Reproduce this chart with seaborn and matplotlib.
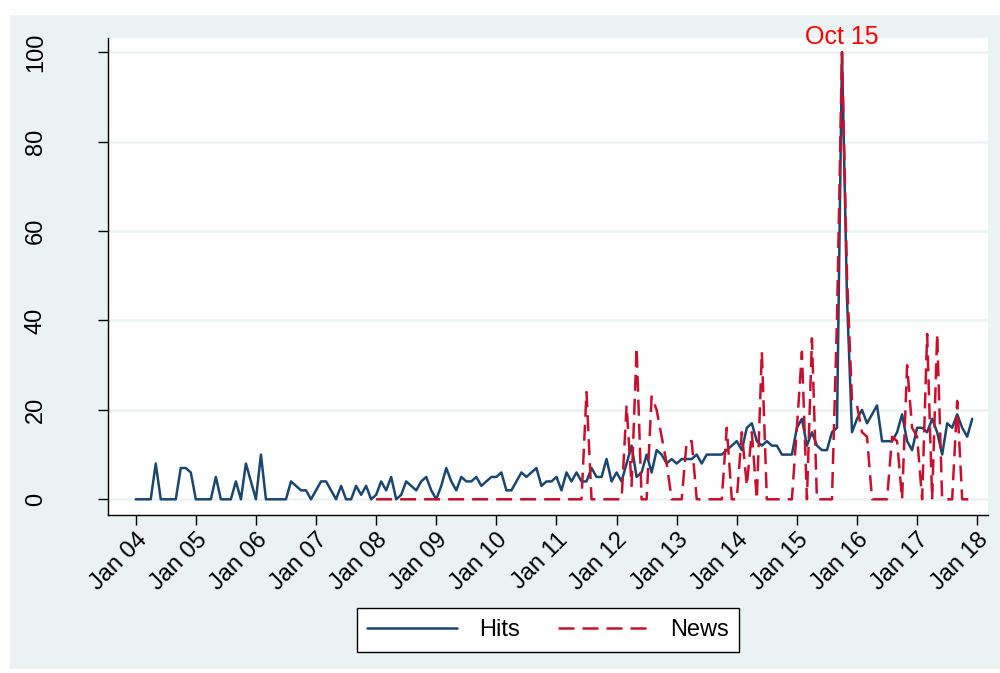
import numpy as np
import pandas as pd
import matplotlib
matplotlib.use("Agg")
import matplotlib.pyplot as plt
import seaborn as sns
from matplotlib.patches import Rectangle
from matplotlib.lines import Line2D

sns.set_theme(style="white")
plt.rcParams['font.family'] = ['Liberation Sans', 'DejaVu Sans']
plt.rcParams['text.color'] = 'black'
plt.rcParams['xtick.color'] = 'black'
plt.rcParams['ytick.color'] = 'black'

# ---- data (monthly, Jan 2004 - Dec 2017) ----
hits_2004 = [0, 0, 0, 0, 8, 0, 0, 0, 0, 7, 7, 6]
hits_2005 = [0, 0, 0, 0, 5, 0, 0, 0, 4, 0, 8, 4]
hits_2006 = [0, 10, 0, 0, 0, 0, 0, 4, 3, 2, 2, 0]
hits_2007 = [2, 4, 4, 2, 0, 3, 0, 0, 3, 1, 3, 0]
hits_2008 = [1, 4, 2, 5, 0, 1, 4, 3, 2, 4, 5, 2]
hits_2009 = [0, 3, 7, 4, 2, 5, 4, 4, 5, 3, 4, 5]
hits_2010 = [5, 6, 2, 2, 4, 6, 5, 6, 7, 3, 4, 4]
hits_2011 = [5, 2, 6, 4, 6, 4, 4, 7, 5, 5, 9, 4]
hits_2012 = [6, 4, 8, 12, 5, 6, 10, 6, 11, 10, 8, 9]
hits_2013 = [8, 9, 9, 9, 10, 8, 10, 10, 10, 10, 11, 12]
hits_2014 = [13, 11, 16, 17, 13, 12, 13, 12, 12, 10, 10, 10]
hits_2015 = [16, 18, 12, 15, 12, 11, 11, 15, 16, 100, 45, 15]
hits_2016 = [18, 20, 17, 19, 21, 13, 13, 13, 15, 19, 13, 11]
hits_2017 = [16, 16, 15, 18, 15, 10, 17, 16, 19, 16, 14, 18]

news_2008 = [0, 0, 0, 0, 0, 0, 0, 0, 0, 0, 0, 0]
news_2009 = [0, 0, 0, 0, 0, 0, 0, 0, 0, 0, 0, 0]
news_2010 = [0, 0, 0, 0, 0, 0, 0, 0, 0, 0, 0, 0]
news_2011 = [0, 0, 0, 0, 0, 0, 24, 0, 0, 0, 0, 0]
news_2012 = [0, 0, 21, 3, 34, 0, 0, 23, 20, 14, 8, 0]
news_2013 = [0, 0, 13, 13, 0, 0, 0, 0, 0, 0, 16, 0]
news_2014 = [0, 15, 3, 15, 0, 33, 0, 0, 0, 0, 0, 0]
news_2015 = [16, 33, 0, 36, 0, 0, 0, 0, 40, 100, 50, 22]
news_2016 = [21, 15, 14, 0, 0, 0, 0, 14, 13, 0, 30, 16]
news_2017 = [14, 0, 37, 0, 37, 0, 0, 0, 22, 0, 0, 0]

tick_labels = ["Jan 04", "Jan 05", "Jan 06", "Jan 07", "Jan 08", "Jan 09",
               "Jan 10", "Jan 11", "Jan 12", "Jan 13", "Jan 14", "Jan 15",
               "Jan 16", "Jan 17", "Jan 18"]
y_ticks = [0, 20, 40, 60, 80, 100]
annot_label = "Oct 15"
annot_month = 141  # Oct 2015, months since Jan 2004
news_start = 48    # Jan 2008

hits = (hits_2004 + hits_2005 + hits_2006 + hits_2007 + hits_2008 + hits_2009 +
        hits_2010 + hits_2011 + hits_2012 + hits_2013 + hits_2014 + hits_2015 +
        hits_2016 + hits_2017)
news = (news_2008 + news_2009 + news_2010 + news_2011 + news_2012 + news_2013 +
        news_2014 + news_2015 + news_2016 + news_2017)

months = np.arange(len(hits))
df = pd.DataFrame({"month": months, "Hits": hits})
df["News"] = np.nan
df.loc[news_start:, "News"] = news
long = df.melt(id_vars="month", var_name="series", value_name="value").dropna()

navy = "#1a476f"
red = "#c8102e"
dash = (6.4, 3.2)

fig = plt.figure(figsize=(10, 6.73), dpi=100)
fig.patch.set_facecolor("white")
fig.patches.append(Rectangle((0.010, 0.006), 0.990, 0.972, transform=fig.transFigure,
                             facecolor="#eaf2f3", edgecolor="none", zorder=-10))
ax = fig.add_axes([0.108, 0.2348, 0.880, 0.7088])
ax.set_facecolor("white")

sns.lineplot(data=long, x="month", y="value", hue="series", style="series",
             palette={"Hits": navy, "News": red},
             dashes={"Hits": "", "News": dash},
             linewidth=1.8, ax=ax, legend=False, sort=True, estimator=None)

ax.set_xlim(-5.53, 170.15)
ax.set_ylim(-3.51, 103.2)
ax.set_xlabel("")
ax.set_ylabel("")

ax.set_yticks(y_ticks)
ax.set_yticklabels([str(v) for v in y_ticks], rotation=90, va="center")
ax.set_xticks(np.arange(len(tick_labels)) * 12)
ax.set_xticklabels(tick_labels, rotation=45, ha="right", rotation_mode="anchor")

ax.tick_params(axis="y", direction="out", length=7, width=1, color="black",
               labelcolor="black", labelsize=17, pad=37, left=True)
ax.tick_params(axis="x", direction="out", length=7, width=1, color="black",
               labelcolor="black", labelsize=17, pad=3, bottom=True)

ax.yaxis.grid(True, color="#eaf2f3", linewidth=1.8, zorder=0)
ax.xaxis.grid(False)
ax.set_axisbelow(True)

for s in ["top", "right"]:
    ax.spines[s].set_visible(False)
for s in ["left", "bottom"]:
    ax.spines[s].set_color("black")
    ax.spines[s].set_linewidth(1.0)

ax.text(annot_month, 103.4, annot_label, color="red", fontsize=18,
        ha="center", va="center", clip_on=False)

handles = [Line2D([], [], color=navy, lw=1.8),
           Line2D([], [], color=red, lw=1.8, dashes=dash)]
leg = fig.legend(handles, ["Hits", "News"], loc="center",
                 bbox_to_anchor=(0.548, 0.064), ncol=2, fontsize=17,
                 frameon=True, fancybox=False, framealpha=1, edgecolor="black",
                 handlelength=3.8, handletextpad=0.95, columnspacing=1.6,
                 borderpad=0.45)
leg.get_frame().set_linewidth(1.0)
leg.get_frame().set_facecolor("white")
for t in leg.get_texts():
    t.set_color("black")

fig.savefig("out.png", dpi=100, facecolor=fig.get_facecolor())
